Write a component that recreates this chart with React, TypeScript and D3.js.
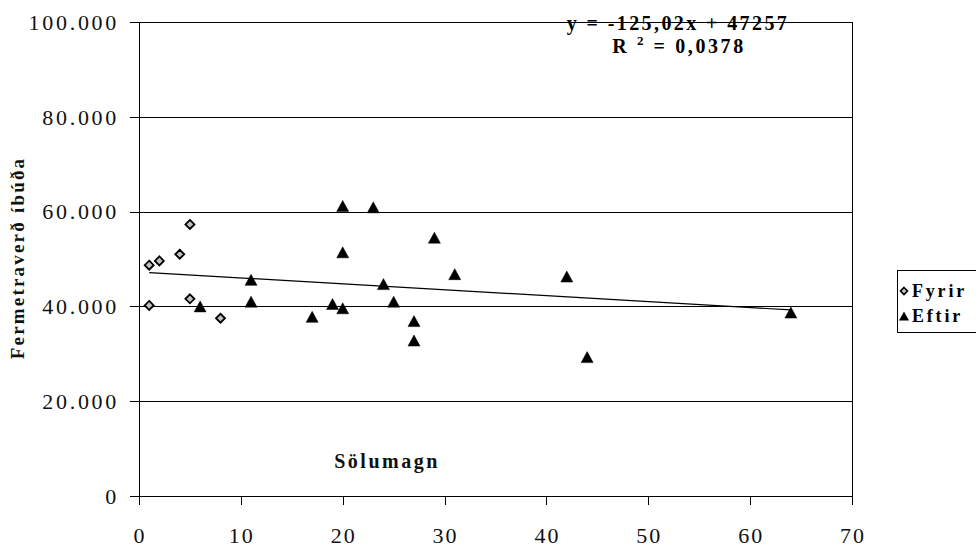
import React from "react";
import * as d3 from "d3";

const fyrirX = [1, 2, 4, 5, 1, 5, 8];
const fyrirY = [48700, 49600, 51000, 57300, 40200, 41600, 37500];
const eftirX = [6, 11, 11, 20, 23, 29, 20, 24, 19, 25, 20, 17, 27, 27, 31, 42, 64, 44];
const eftirY = [40000, 45600, 41000, 61200, 60900, 54500, 51400, 44700, 40500, 41000, 39600, 37800, 36900, 32800, 46800, 46300, 38700, 29300];
const xTicks = [0, 10, 20, 30, 40, 50, 60, 70];
const yTicks = [0, 20000, 40000, 60000, 80000, 100000];
const slope = -125.02;
const intercept = 47257;
const legendLabels = ["Fyrir", "Eftir"];

const W = 976, H = 549;
const L = 139, R = 852, T = 22, B = 496;
const serif = "Liberation Serif";

export default function App() {
  const x = d3.scaleLinear().domain([0, 70]).range([L, R]);
  const y = d3.scaleLinear().domain([0, 100000]).range([B, T]);
  const fmt = (v: number) => (v === 0 ? "0" : d3.format(",")(v).replace(/,/g, "."));
  const allX = [...fyrirX, ...eftirX];
  const x0 = d3.min(allX)!, x1 = d3.max(allX)!;
  const diamond = (cx: number, cy: number, s = 4.5) =>
    `M${cx},${cy - s}L${cx + s},${cy}L${cx},${cy + s}L${cx - s},${cy}Z`;
  const tri = (cx: number, cy: number, w = 6, h = 11) =>
    `M${cx},${cy - h / 2}L${cx + w},${cy + h / 2}L${cx - w},${cy + h / 2}Z`;
  const f = (size: number, ls: number, bold = false): React.CSSProperties => ({
    fontFamily: serif,
    fontSize: size,
    letterSpacing: ls,
    fontWeight: bold ? 700 : 400,
  });

  return (
    <svg width={W} height={H} style={{ position: "absolute", left: 0, top: 0, background: "#fff" }}>
      <rect x={0} y={0} width={W} height={H} fill="#fff" />
      {yTicks.filter((t) => t > 0).map((t) => (
        <line key={t} x1={L} x2={R} y1={Math.round(y(t)) + 0.5} y2={Math.round(y(t)) + 0.5} stroke="#000" strokeWidth={1} />
      ))}
      <line x1={R + 0.5} x2={R + 0.5} y1={T} y2={B} stroke="#000" />
      <line x1={L + 0.5} x2={L + 0.5} y1={T} y2={B} stroke="#000" />
      <line x1={L} x2={R + 1} y1={B + 0.5} y2={B + 0.5} stroke="#000" />
      {yTicks.map((t) => (
        <g key={t}>
          <line x1={L - 9} x2={L} y1={Math.round(y(t)) + 0.5} y2={Math.round(y(t)) + 0.5} stroke="#000" />
          <text x={L - 20} y={y(t)} dy="0.35em" textAnchor="end" style={f(22, 2.7)} fill="#111">
            {fmt(t)}
          </text>
        </g>
      ))}
      {xTicks.map((t) => (
        <g key={t}>
          <line x1={Math.round(x(t)) + 0.5} x2={Math.round(x(t)) + 0.5} y1={B} y2={B + 9} stroke="#000" />
          <text x={x(t) + 1} y={535} dy="0.35em" textAnchor="middle" style={f(22, 2)} fill="#111">
            {t}
          </text>
        </g>
      ))}
      <line x1={x(x0)} y1={y(slope * x0 + intercept)} x2={x(x1)} y2={y(slope * x1 + intercept)} stroke="#000" strokeWidth={1.2} />
      {fyrirX.map((v, i) => (
        <path key={"f" + i} d={diamond(x(v), y(fyrirY[i]))} fill="#c0c0c0" stroke="#000" strokeWidth={1.8} />
      ))}
      {eftirX.map((v, i) => (
        <path key={"e" + i} d={tri(x(v), y(eftirY[i]))} fill="#000" stroke="#000" strokeWidth={0.5} />
      ))}
      <text x={678} y={30} textAnchor="middle" style={f(20, 2.4, true)} fill="#000">
        y = -125,02x + 47257
      </text>
      <text x={679} y={53} textAnchor="middle" style={f(20, 2.6, true)} fill="#000">
        R <tspan fontSize={13} dy={-8}>2</tspan><tspan dy={8}>  = 0,0378</tspan>
      </text>
      <text x={387} y={468} textAnchor="middle" style={f(20, 2.5, true)} fill="#111">
        Sölumagn
      </text>
      <text transform="translate(24,258) rotate(-90)" textAnchor="middle" style={f(19, 2.2, true)} fill="#111">
        Fermetraverð íbúða
      </text>
      <rect x={897.5} y={270.5} width={90} height={62} fill="#fff" stroke="#000" />
      <path d={diamond(904, 291, 3.5)} fill="#c0c0c0" stroke="#000" strokeWidth={1.6} />
      <text x={912} y={291} dy="0.35em" style={f(18, 2.8, true)} fill="#000">
        {legendLabels[0]}
      </text>
      <path d={tri(904, 316, 5, 9)} fill="#000" />
      <text x={912} y={316} dy="0.35em" style={f(18, 2.8, true)} fill="#000">
        {legendLabels[1]}
      </text>
    </svg>
  );
}
